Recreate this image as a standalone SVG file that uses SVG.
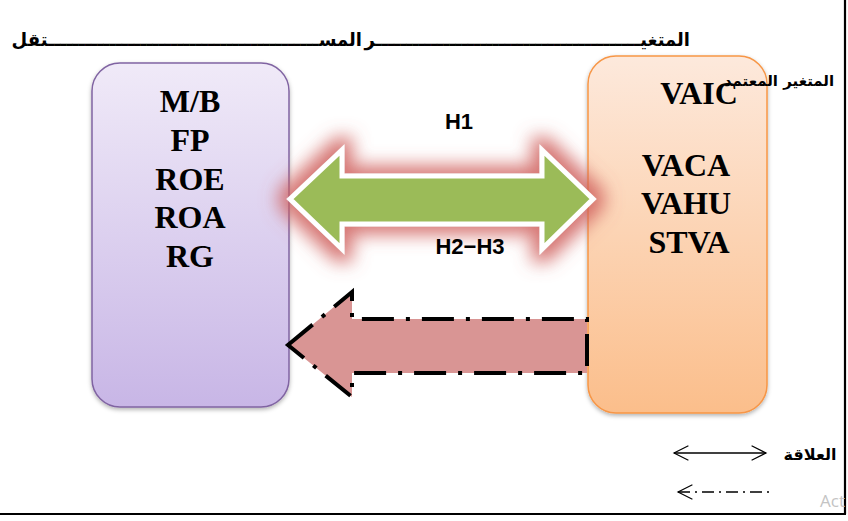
<svg xmlns="http://www.w3.org/2000/svg" width="848" height="521" viewBox="0 0 848 521">
<defs>
<linearGradient id="gPurple" x1="0" y1="0" x2="0" y2="1">
<stop offset="0" stop-color="#f0eaf8"/>
<stop offset="1" stop-color="#c8b6e6"/>
</linearGradient>
<linearGradient id="gOrange" x1="0" y1="0" x2="0" y2="1">
<stop offset="0" stop-color="#fde9dc"/>
<stop offset="1" stop-color="#fbbe8b"/>
</linearGradient>
<filter id="shadow" x="-10%" y="-10%" width="120%" height="120%">
<feDropShadow dx="0" dy="2" stdDeviation="2" flood-color="#000" flood-opacity="0.3"/>
</filter>
<filter id="glow" x="-25%" y="-70%" width="150%" height="240%">
<feMorphology in="SourceAlpha" operator="dilate" radius="8" result="d"/>
<feGaussianBlur in="d" stdDeviation="9" result="b"/>
<feFlood flood-color="#cf5e5b" flood-opacity="0.85"/>
<feComposite in2="b" operator="in" result="g"/>
<feMerge><feMergeNode in="g"/><feMergeNode in="SourceGraphic"/></feMerge>
</filter>
<marker id="chev" viewBox="0 0 20 20" refX="18" refY="10" markerWidth="18" markerHeight="18" markerUnits="userSpaceOnUse" orient="auto-start-reverse">
<path d="M2,2 L18,10 L2,18" fill="none" stroke="#000" stroke-width="1.3"/>
</marker>
</defs>
<style>
.lat{font-family:"Liberation Serif","Times New Roman",serif;font-weight:bold;font-size:32px;fill:#000;text-anchor:middle}
.hl{font-family:"Liberation Sans",Arial,sans-serif;font-weight:bold;font-size:22px;fill:#000;text-anchor:middle}
.ar{font-family:"DejaVu Sans","Noto Sans",sans-serif;font-weight:bold;fill:#000}
.frame{stroke:#000;stroke-width:2.2;fill:none}
</style>
<rect width="848" height="521" fill="#fff"/>

<g id="header">
<text class="ar" x="690" y="46" font-size="18" text-anchor="end">المتغيـــــــــــــــــــــــــــــــــــــــــــر</text>
<text class="ar" x="362" y="46" font-size="18" text-anchor="end">المســــــــــــــــــــــــــــــــــــــــــــتقل</text>
</g>

<g id="node-independent">
<rect x="92" y="63" width="197" height="344" rx="28" fill="url(#gPurple)" stroke="#8064a2" stroke-width="1.5" filter="url(#shadow)"/>
<text class="lat" x="190" y="112">M/B</text>
<text class="lat" x="190" y="151">FP</text>
<text class="lat" x="190" y="190">ROE</text>
<text class="lat" x="190" y="228">ROA</text>
<text class="lat" x="190" y="267">RG</text>
</g>

<g id="node-dependent">
<rect x="588" y="56" width="179" height="357" rx="28" fill="url(#gOrange)" stroke="#f79646" stroke-width="1.5" filter="url(#shadow)"/>
<text class="lat" x="699" y="104">VAIC</text>
<text class="lat" x="686" y="176">VACA</text>
<text class="lat" x="686" y="214">VAHU</text>
<text class="lat" x="689" y="253">STVA</text>
</g>

<g id="dependent-label">
<text class="ar" x="779" y="86" font-size="15" text-anchor="middle">المتغير المعتمد</text>
</g>

<g id="connectors">
<path d="M290,199 L342,150 L342,176 L542,176 L542,150 L593,199 L542,249 L542,224 L342,224 L342,249 Z" fill="#9bbb59" stroke="#fff" stroke-width="5" filter="url(#glow)"/>
<path d="M288,345 L352,292 L352,319 L587,319 L587,373 L352,373 L352,397 Z" fill="#d99594" stroke="#000" stroke-width="4" stroke-dasharray="32 12 4 12"/>
<text class="hl" x="459" y="129">H1</text>
<text class="hl" x="470" y="254">H2−H3</text>
</g>

<g id="legend">
<line x1="674" y1="453" x2="766" y2="453" stroke="#000" stroke-width="1.3" marker-start="url(#chev)" marker-end="url(#chev)"/>
<text class="ar" x="810" y="460" font-size="16" text-anchor="middle">العلاقة</text>
<line x1="678" y1="492" x2="772" y2="492" stroke="#000" stroke-width="1.3" stroke-dasharray="12 5 2 5" marker-start="url(#chev)"/>
</g>

<g id="frame">
<line class="frame" x1="845" y1="0" x2="845" y2="514"/>
<line class="frame" x1="0" y1="514" x2="846" y2="514"/>
<text x="820" y="507" font-family="'Open Sans','Noto Sans',sans-serif" font-size="17" fill="#c4c4c4">Act</text>
</g>
</svg>
